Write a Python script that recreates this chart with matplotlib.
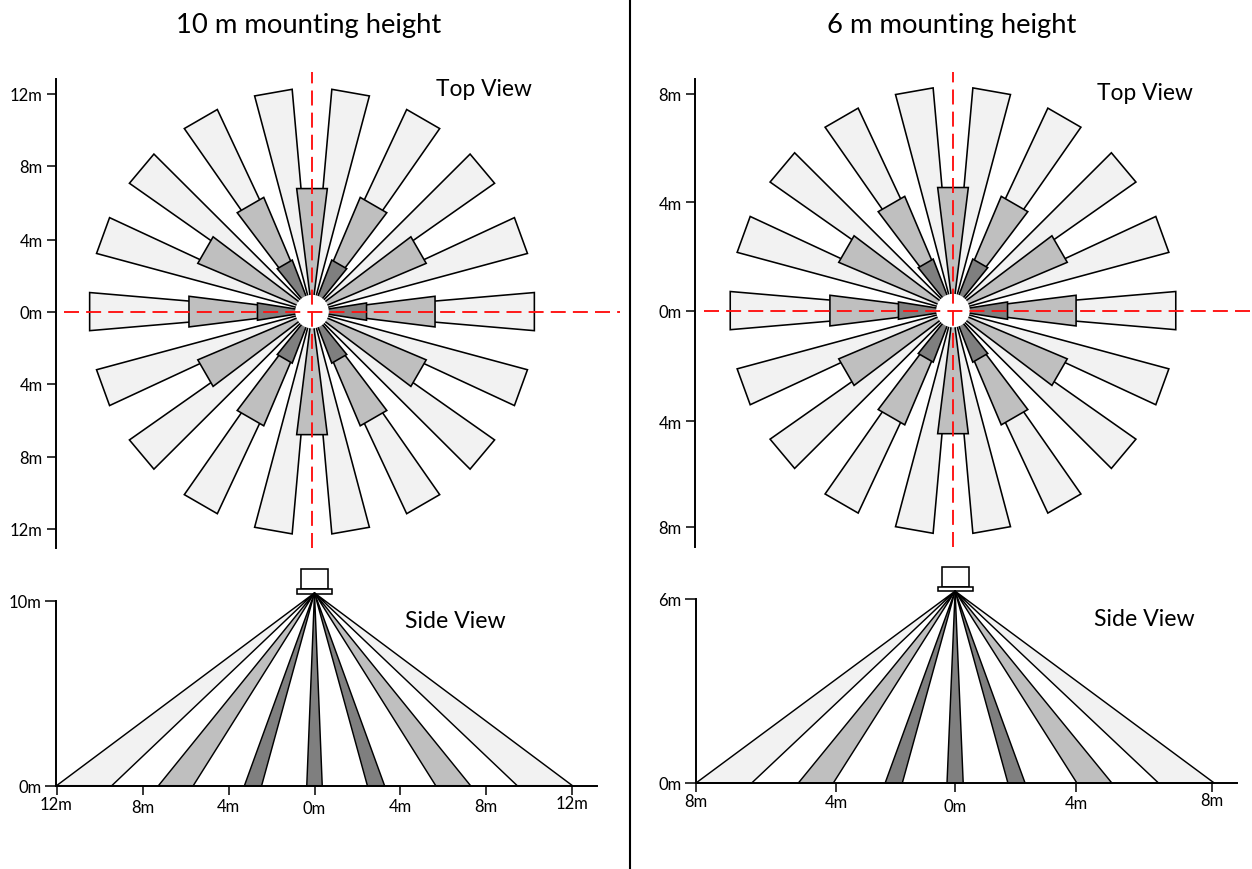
import matplotlib
matplotlib.use("Agg")
import numpy as np
import matplotlib.pyplot as plt
from matplotlib.patches import Polygon, Rectangle, Circle
from matplotlib.lines import Line2D

plt.rcParams['font.family'] = ['Lato', 'DejaVu Sans']

W, H = 1252, 870

# ---- data ----
outer_angles = [0, 20, 40, 60, 80, 100, 120, 140, 160, 180, 200, 220, 240, 260, 280, 300, 320, 340]
mid_angles = [0, 30, 60, 90, 120, 150, 180, 210, 240, 270, 300, 330]
inner_angles = [0, 60, 120, 180, 240, 300]
half_angles = [4.9, 7.1, 9.0]  # outer, mid, inner

left_radii = [12.33, 6.85, 3.05]
right_radii = [8.22, 4.56, 2.03]

left_yticks = [12.04, 8.06, 3.98, 0, -3.98, -8.01, -12.0]
left_ylabels = ['12m', '8m', '4m', '0m', '4m', '8m', '12m']
right_yticks = [7.98, 3.98, 0, -4.06, -7.95]
right_ylabels = ['8m', '4m', '0m', '4m', '8m']

left_side_edges = [(-12.0, -9.43), (-7.26, -5.64), (-3.26, -2.46), (-0.36, 0.36), (2.46, 3.26), (5.64, 7.26), (9.43, 12.0)]
right_side_edges = [(-8.0, -6.28), (-4.84, -3.76), (-2.16, -1.63), (-0.25, 0.25), (1.63, 2.16), (3.76, 4.84), (6.28, 8.0)]
side_colors = ['#f2f2f2', '#bfbfbf', '#7f7f7f', '#7f7f7f', '#7f7f7f', '#bfbfbf', '#f2f2f2']

left_xticks = [-12, -8, -4, 0, 3.98, 7.98, 11.96]
left_xlabels = ['12m', '8m', '4m', '0m', '4m', '8m', '12m']
left_xpads = [1.0, 3.0, 2.0, 4.0, 2.0, 2.0, 0.5]
right_xticks = [-8, -3.67, 0, 3.73, 7.94]
right_xlabels = ['8m', '4m', '0m', '4m', '8m']
right_xpads = [0.5, 1.5, 4.0, 2.0, 0.0]

LIGHT, MID, DARK = '#f2f2f2', '#bfbfbf', '#7f7f7f'
LW = 1.15
TICK_FS = 12


def px_axes(x0, y0, x1, y1):
    ax = fig.add_axes([x0 / W, 1 - y1 / H, (x1 - x0) / W, (y1 - y0) / H])
    ax.patch.set_visible(False)
    return ax


def wedge(ax, ang, r, half, color):
    a = np.radians([ang - half, ang + half])
    pts = [(0, 0), (r * np.cos(a[0]), r * np.sin(a[0])), (r * np.cos(a[1]), r * np.sin(a[1]))]
    ax.add_patch(Polygon(pts, closed=True, facecolor=color, edgecolor='black', lw=LW, joinstyle='miter'))


def top_view(rect, c, scale, radii, yticks, ylabels, axis_top, red_x0, hole):
    x0, y0, x1, y1 = rect
    ax = px_axes(x0, y0, x1, y1)
    ax.set_xlim((x0 - c[0]) / scale, (x1 - c[0]) / scale)
    ax.set_ylim((c[1] - y1) / scale, (c[1] - y0) / scale)
    for a in outer_angles:
        wedge(ax, a, radii[0], half_angles[0], LIGHT)
    for a in mid_angles:
        wedge(ax, a, radii[1], half_angles[1], MID)
    for a in inner_angles:
        wedge(ax, a, radii[2], half_angles[2], DARK)
    ax.add_patch(Circle((0, 0), hole / scale, facecolor='white', edgecolor='none', zorder=5))
    red = dict(color='#ff1010', lw=1.35, dashes=(8, 3.8), zorder=6)
    ax.plot([(red_x0 - c[0]) / scale, (x1 - c[0]) / scale], [0, 0], **red)
    ax.plot([0, 0], list(ax.get_ylim()), **red)
    for s in ['top', 'right', 'bottom']:
        ax.spines[s].set_visible(False)
    ax.spines['left'].set_linewidth(1.4)
    ax.spines['left'].set_bounds((c[1] - y1) / scale, (c[1] - axis_top) / scale)
    ax.set_xticks([])
    ax.set_yticks(yticks)
    ax.set_yticklabels(ylabels, fontsize=TICK_FS)
    ax.tick_params(axis='y', length=6.5, width=1.1, pad=3.0)
    return ax


def side_view(rect, apex_x, xscale, yscale, apex_h, edges, xticks, xlabels, xpads, ymax_label, box, plate):
    x0, y0, x1, y1 = rect
    ax = px_axes(x0, y0, x1, y1)
    ax.set_xlim((x0 - apex_x) / xscale, (x1 - apex_x) / xscale)
    ax.set_ylim(0, (y1 - y0) / yscale)
    ax.add_patch(Rectangle((box[0], box[2]), box[1] - box[0], box[3] - box[2], fc='white', ec='black', lw=LW, clip_on=False))
    ax.add_patch(Rectangle((plate[0], plate[2]), plate[1] - plate[0], plate[3] - plate[2], fc='white', ec='black', lw=LW, clip_on=False))
    for (a, b), col in zip(edges, side_colors):
        ax.add_patch(Polygon([(0, apex_h), (a, 0), (b, 0)], closed=True, facecolor=col, edgecolor='black', lw=1.05, clip_on=False, joinstyle='round'))
    for s in ['top', 'right']:
        ax.spines[s].set_visible(False)
    for s in ['left', 'bottom']:
        ax.spines[s].set_linewidth(1.4)
        ax.spines[s].set_zorder(4)
    ax.spines['left'].set_bounds(0, ymax_label)
    ax.set_yticks([0, ymax_label])
    ax.set_yticklabels(['0m', f'{ymax_label}m'], fontsize=TICK_FS)
    ax.tick_params(axis='y', length=8, width=1.1, pad=2.5)
    ax.set_xticks(xticks)
    ax.set_xticklabels(xlabels, fontsize=TICK_FS)
    ax.tick_params(axis='x', length=6.5, width=1.1)
    for t, p in zip(ax.xaxis.get_major_ticks(), xpads):
        t.set_pad(p)
    return ax


def label(x, y, s, size):
    fig.text(x / W, 1 - y / H, s, ha='center', va='center', fontsize=size, color='black')


fig = plt.figure(figsize=(W / 100, H / 100), dpi=100, facecolor='white')

top_view((56, 73, 620, 548.7), (312, 312.6), 18.1, left_radii, left_yticks, left_ylabels, 80, 64, 16.8)
top_view((695, 73, 1252, 547.7), (953, 311.6), 27.2, right_radii, right_yticks, right_ylabels, 80, 704, 16.8)

side_view((56, 560, 597, 786.7), 314.5, 21.5, 18.5, 10.42, left_side_edges, left_xticks, left_xlabels, left_xpads, 10,
          (-0.61, 0.61, 10.62, 11.73), (-0.82, 0.82, 10.35, 10.62))
side_view((696, 560, 1237, 784), 955, 32.4, 30.7, 6.25, right_side_edges, right_xticks, right_xlabels, right_xpads, 6,
          (-0.39, 0.42, 6.37, 7.05), (-0.53, 0.56, 6.24, 6.37))

fig.add_artist(Line2D([630 / W, 630 / W], [0, 1], color='black', lw=1.5, transform=fig.transFigure))

label(309, 26, '10 m mounting height', 19.7)
label(951.5, 26, '6 m mounting height', 19.7)
label(484, 89, 'Top View', 16.4)
label(1145, 93, 'Top View', 16.4)
label(455, 622, 'Side View', 16.7)
label(1144.5, 620, 'Side View', 16.7)

fig.savefig('out.png', dpi=100)
